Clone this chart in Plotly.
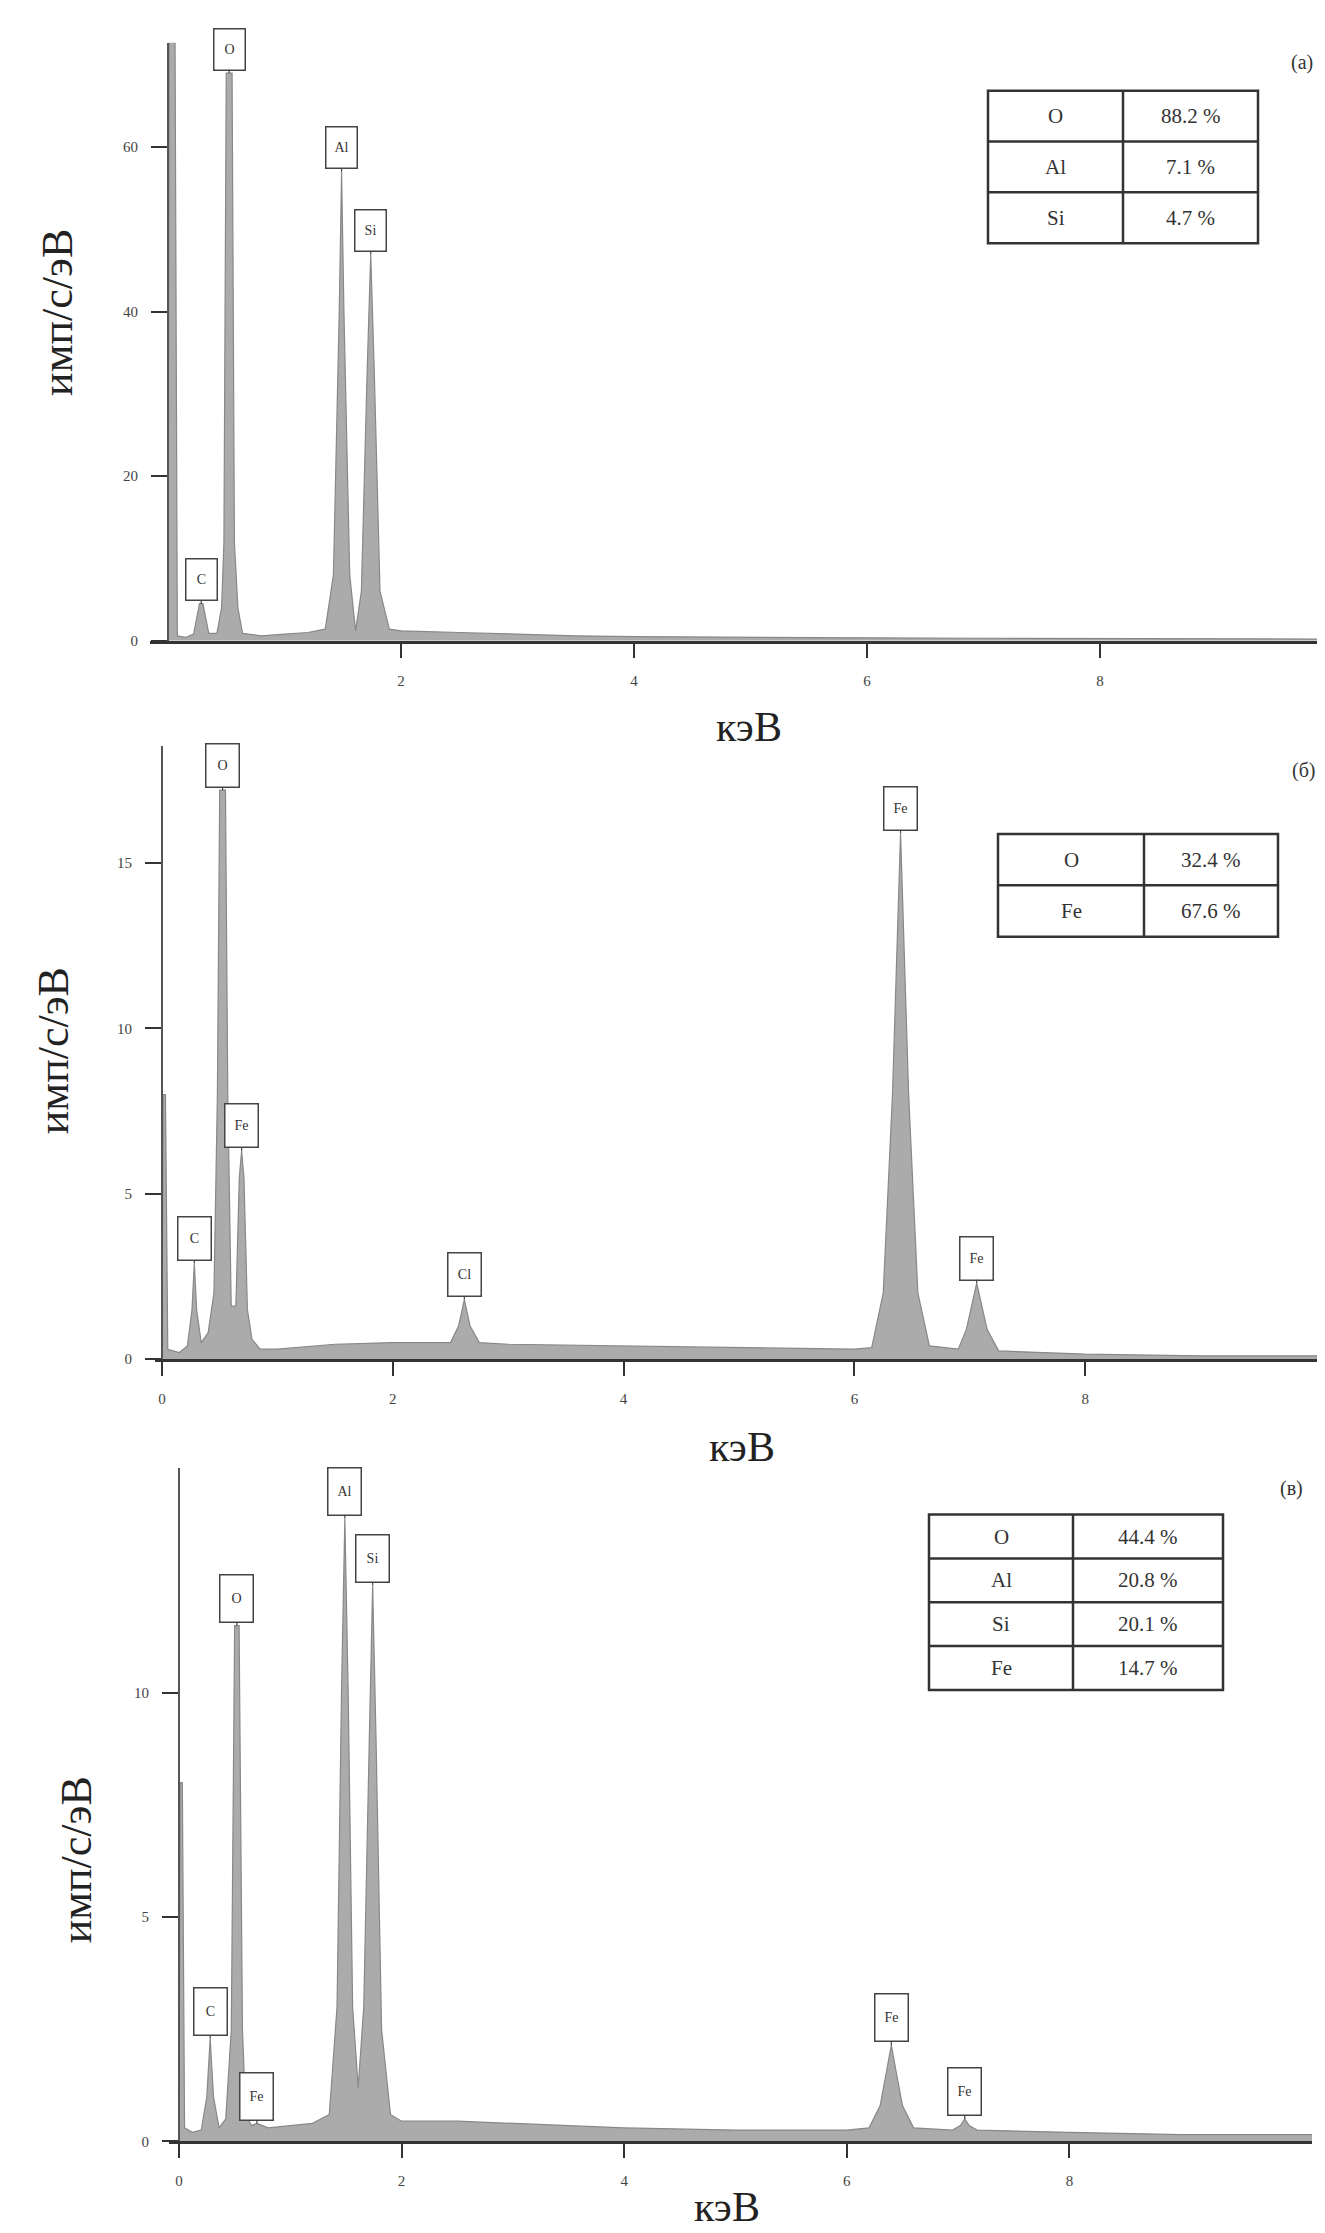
import plotly.graph_objects as go

W, H = 1325, 2233

# ---------------- data ----------------
# spectrum points: energy (keV) and counts (imp/s/eV)
energy_a = [0.0, 0.01, 0.06, 0.08, 0.15, 0.22, 0.27, 0.30, 0.35, 0.42, 0.46, 0.48, 0.50, 0.55, 0.57, 0.60, 0.64, 0.8, 1.0, 1.2, 1.35,
            1.42, 1.47, 1.49, 1.51, 1.56, 1.61, 1.66, 1.71, 1.74, 1.77, 1.82, 1.9, 2.0, 2.5, 3.0, 3.5, 4.0, 5.0, 6.0, 7.0, 8.0, 9.0, 10.0]
counts_a = [0, 75, 75, 0.6, 0.4, 0.8, 4.5, 4.5, 0.9, 0.9, 4, 12, 69, 69, 12, 4, 0.9, 0.6, 0.8, 1.0, 1.4,
            8, 40, 57, 40, 8, 1.2, 6, 33, 47, 33, 6, 1.4, 1.2, 1.0, 0.8, 0.6, 0.5, 0.4, 0.35, 0.3, 0.25, 0.2, 0.2]

energy_b = [0.0, 0.01, 0.03, 0.05, 0.15, 0.22, 0.26, 0.28, 0.30, 0.34, 0.40, 0.45, 0.48, 0.50, 0.55, 0.57, 0.60, 0.64, 0.67, 0.69,
            0.71, 0.74, 0.78, 0.85, 1.0, 1.5, 2.0, 2.5, 2.57, 2.62, 2.67, 2.75, 3.0, 4.0, 5.0, 6.0, 6.15, 6.25, 6.33, 6.40,
            6.47, 6.55, 6.65, 6.9, 6.97, 7.06, 7.15, 7.25, 8.0, 9.0, 10.2]
counts_b = [0, 8, 8, 0.3, 0.2, 0.4, 1.5, 2.9, 1.5, 0.5, 0.8, 2.0, 8, 17.2, 17.2, 8, 1.6, 1.6, 5.5, 6.3,
            5.5, 1.5, 0.6, 0.3, 0.3, 0.45, 0.5, 0.5, 1.0, 1.8, 1.0, 0.5, 0.45, 0.4, 0.35, 0.3, 0.35, 2.0, 8.0, 15.9,
            8.0, 2.0, 0.4, 0.3, 0.9, 2.3, 0.9, 0.25, 0.15, 0.1, 0.1]

energy_c = [0.0, 0.01, 0.03, 0.05, 0.12, 0.2, 0.25, 0.28, 0.31, 0.36, 0.42, 0.47, 0.50, 0.54, 0.57, 0.60, 0.65, 0.70, 0.75, 0.8,
            1.0, 1.2, 1.35, 1.42, 1.46, 1.49, 1.52, 1.56, 1.61, 1.66, 1.71, 1.74, 1.77, 1.82, 1.9, 2.0, 2.5, 3.0, 3.5, 4.0,
            5.0, 6.0, 6.2, 6.3, 6.36, 6.40, 6.44, 6.5, 6.6, 6.95, 7.02, 7.06, 7.10, 7.17, 8.0, 9.0, 10.2]
counts_c = [0, 8, 8, 0.3, 0.2, 0.25, 1.0, 2.3, 1.0, 0.3, 0.5, 2.5, 11.5, 11.5, 2.5, 0.6, 0.35, 0.4, 0.35, 0.3,
            0.35, 0.4, 0.6, 3.0, 10, 13.9, 10, 3.0, 1.2, 3.0, 9, 12.4, 9, 2.5, 0.6, 0.45, 0.45, 0.4, 0.35, 0.3,
            0.25, 0.25, 0.3, 0.8, 1.6, 2.15, 1.6, 0.8, 0.3, 0.25, 0.35, 0.5, 0.35, 0.25, 0.2, 0.15, 0.15]

# peak labels: element, energy, height
peaks_a = [("C", 0.285, 4.5), ("O", 0.525, 69), ("Al", 1.49, 57), ("Si", 1.74, 47)]
peaks_b = [("C", 0.28, 2.9), ("O", 0.525, 17.2), ("Fe", 0.69, 6.3), ("Cl", 2.62, 1.8), ("Fe", 6.40, 15.9), ("Fe", 7.06, 2.3)]
peaks_c = [("C", 0.28, 2.3), ("O", 0.52, 11.5), ("Fe", 0.70, 0.4), ("Al", 1.49, 13.9), ("Si", 1.74, 12.4),
           ("Fe", 6.40, 2.15), ("Fe", 7.06, 0.5)]

# composition tables
table_a_el = ["O", "Al", "Si"]
table_a_pct = ["88.2 %", "7.1 %", "4.7 %"]
table_b_el = ["O", "Fe"]
table_b_pct = ["32.4 %", "67.6 %"]
table_c_el = ["O", "Al", "Si", "Fe"]
table_c_pct = ["44.4 %", "20.8 %", "20.1 %", "14.7 %"]

x_ticks_a = [2, 4, 6, 8]
x_ticks_bc = [0, 2, 4, 6, 8]
y_ticks_a = [0, 20, 40, 60]
y_ticks_b = [0, 5, 10, 15]
y_ticks_c = [0, 5, 10]

panel_names = ["(а)", "(б)", "(в)"]
y_title = "имп/с/эВ"
x_title = "кэВ"

# ---------------- layout geometry (pixels) ----------------
panels = [
    dict(E=energy_a, C=counts_a, peaks=peaks_a, xt=x_ticks_a, yt=y_ticks_a,
         px0=160, pxk=116.5, pl=142, pr=1320, pyb=635, pyu=8.257, pyt=35,
         tab=(980, 1115, 1250, 83, 236), tel=table_a_el, tpc=table_a_pct,
         lab=(1294, 55), ytit=(50, 306), xtit=(741, 722), box=(28, 38)),
    dict(E=energy_b, C=counts_b, peaks=peaks_b, xt=x_ticks_bc, yt=y_ticks_b,
         px0=154, pxk=115.4, pl=147, pr=1325, pyb=1356, pyu=33.2, pyt=741,
         tab=(990, 1136, 1270, 829, 932), tel=table_b_el, tpc=table_b_pct,
         lab=(1296, 765), ytit=(45, 1047), xtit=(734, 1444), box=(30, 40)),
    dict(E=energy_c, C=counts_c, peaks=peaks_c, xt=x_ticks_bc, yt=y_ticks_c,
         px0=171, pxk=111.3, pl=161, pr=1304, pyb=2141, pyu=45.0, pyt=1465,
         tab=(921, 1065, 1215, 1512, 1688), tel=table_c_el, tpc=table_c_pct,
         lab=(1283, 1486), ytit=(68, 1859), xtit=(719, 2207), box=(30, 44)),
]

FONT = "Liberation Serif"
fig = go.Figure()
annotations = []
shapes = []


def paper_text(x, y, text, size, color="#333", angle=0):
    return dict(x=x / W, y=1 - y / H, xref="paper", yref="paper", text=text,
                showarrow=False, xanchor="center", yanchor="middle", textangle=angle,
                font=dict(family=FONT, size=size, color=color))


for i, p in enumerate(panels):
    k = "" if i == 0 else str(i + 1)
    xa, ya = "x" + k, "y" + k
    fig.add_trace(go.Scatter(
        x=p["E"], y=p["C"], mode="lines", fill="tozeroy",
        fillcolor="#ababab", line=dict(color="#888888", width=1.2),
        xaxis=xa, yaxis=ya, showlegend=False, hoverinfo="skip"))

    xr = [(p["pl"] - p["px0"]) / p["pxk"], (p["pr"] - p["px0"]) / p["pxk"]]
    yr = [0, (p["pyb"] - p["pyt"]) / p["pyu"]]
    xdom = [p["pl"] / W, p["pr"] / W]
    ydom = [1 - p["pyb"] / H, 1 - p["pyt"] / H]

    fig.update_layout(**{
        "xaxis" + k: dict(domain=xdom, range=xr, anchor=ya, showline=True, linecolor="#333",
                          linewidth=3, ticks="outside", ticklen=14, tickwidth=2, tickcolor="#333",
                          tickvals=p["xt"], ticktext=[str(v) for v in p["xt"]],
                          ticklabelstandoff=10, showgrid=False, zeroline=False,
                          tickfont=dict(family=FONT, size=15, color="#444")),
        "yaxis" + k: dict(domain=ydom, range=yr, anchor="free", position=p["px0"] / W,
                          showline=True, linecolor="#555", linewidth=2, ticks="outside",
                          ticklen=16, tickwidth=2, tickcolor="#333", tickvals=p["yt"],
                          ticktext=[str(v) for v in p["yt"]], ticklabelstandoff=10,
                          showgrid=False, zeroline=False,
                          tickfont=dict(family=FONT, size=15, color="#444")),
    })

    bw, bh = p["box"]
    for el, e, h in p["peaks"]:
        annotations.append(dict(
            x=e, y=h, xref=xa, yref=ya, text=el, showarrow=True, arrowhead=0,
            arrowwidth=1.2, arrowcolor="#444", ax=0, ay=-(bh / 2 + 5), standoff=0,
            width=bw, height=bh, bordercolor="#444", borderwidth=1.5, bgcolor="white",
            font=dict(family=FONT, size=14, color="#333")))

    # composition table
    x0, xm, x1, y0, y1 = p["tab"]
    n = len(p["tel"])
    rh = (y1 - y0) / n
    shapes.append(dict(type="rect", xref="paper", yref="paper", x0=x0 / W, x1=x1 / W,
                       y0=1 - y1 / H, y1=1 - y0 / H, line=dict(color="#333", width=2.5)))
    shapes.append(dict(type="line", xref="paper", yref="paper", x0=xm / W, x1=xm / W,
                       y0=1 - y1 / H, y1=1 - y0 / H, line=dict(color="#333", width=2.5)))
    for r in range(1, n):
        yy = 1 - (y0 + r * rh) / H
        shapes.append(dict(type="line", xref="paper", yref="paper", x0=x0 / W, x1=x1 / W,
                           y0=yy, y1=yy, line=dict(color="#333", width=2.5)))
    for r in range(n):
        yc = y0 + (r + 0.5) * rh
        annotations.append(paper_text((x0 + xm) / 2, yc, p["tel"][r], 21))
        annotations.append(paper_text((xm + x1) / 2, yc, p["tpc"][r], 21))

    lx, ly = p["lab"]
    annotations.append(paper_text(lx, ly, panel_names[i], 20))
    tx, ty = p["ytit"]
    annotations.append(paper_text(tx, ty, y_title, 44, "#222", -90))
    tx, ty = p["xtit"]
    annotations.append(paper_text(tx, ty, x_title, 42, "#222"))

fig.update_layout(width=W, height=H, margin=dict(l=0, r=0, t=0, b=0),
                  paper_bgcolor="white", plot_bgcolor="white",
                  annotations=annotations, shapes=shapes, showlegend=False)

fig.write_html("out.html")
